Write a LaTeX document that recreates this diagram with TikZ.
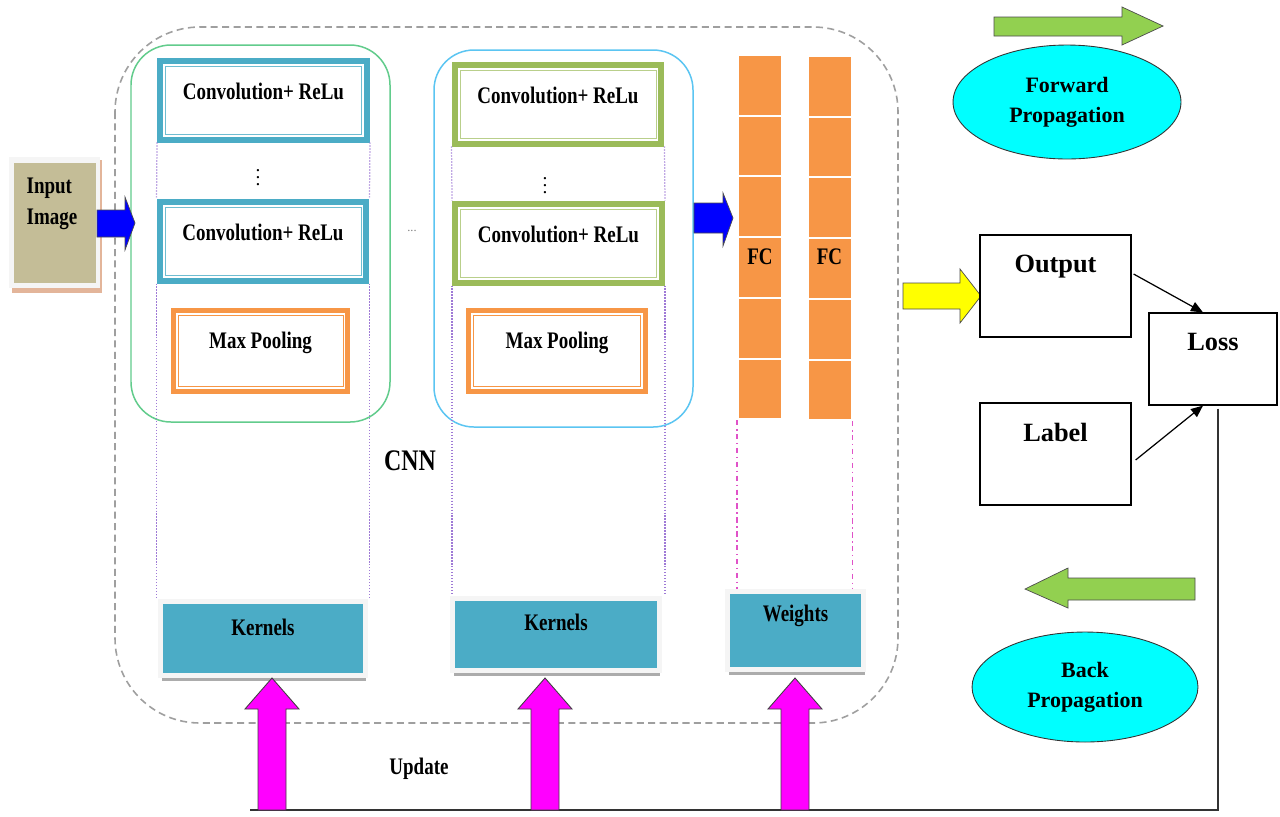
\documentclass[tikz,border=0pt]{standalone}
\usepackage{fontspec}
\setmainfont{Liberation Serif}
\newfontfamily\narrowserif[FakeStretch=0.8]{Liberation Serif}
\usetikzlibrary{shapes.geometric,calc,shadows,arrows.meta}

\definecolor{convteal}{HTML}{4BACC6}
\definecolor{convgreen}{HTML}{9BBB59}
\definecolor{poolorange}{HTML}{F79646}
\definecolor{inputtan}{HTML}{C4BD97}
\definecolor{inputpeach}{HTML}{E3B59A}
\definecolor{grpgreen}{HTML}{62CC8C}
\definecolor{grpblue}{HTML}{5BC5F2}
\definecolor{dotpurple}{HTML}{9F7AD6}
\definecolor{dashpink}{HTML}{E052C8}
\definecolor{greenarrow}{HTML}{92D050}
\definecolor{propcyan}{HTML}{00FFFF}
\definecolor{updmagenta}{HTML}{FF00FF}
\definecolor{fwdblue}{HTML}{0000FF}
\definecolor{outyellow}{HTML}{FFFF00}

\tikzset{
  boxtext/.style={font=\narrowserif\bfseries\fontsize{13.5}{15}\selectfont, inner sep=0pt},
  restext/.style={font=\bfseries\fontsize{15}{18}\selectfont, inner sep=0pt},
  convbox/.style={draw=convteal, line width=0.12cm, fill=white, inner sep=0pt,
    minimum width=4.14cm, minimum height=1.58cm,
    path picture={\draw[convteal!80, line width=0.5pt]
      ([shift={(0.11cm,-0.11cm)}]path picture bounding box.north west) rectangle
      ([shift={(-0.11cm,0.11cm)}]path picture bounding box.south east);}},
  convboxg/.style={convbox, draw=convgreen,
    path picture={\draw[convgreen!70, line width=0.5pt]
      ([shift={(0.11cm,-0.11cm)}]path picture bounding box.north west) rectangle
      ([shift={(-0.11cm,0.11cm)}]path picture bounding box.south east);}},
  poolbox/.style={draw=poolorange, line width=0.1cm, fill=white, inner sep=0pt,
    minimum width=3.5cm, minimum height=1.62cm,
    path picture={\draw[poolorange, line width=0.5pt]
      ([shift={(0.1cm,-0.1cm)}]path picture bounding box.north west) rectangle
      ([shift={(-0.1cm,0.1cm)}]path picture bounding box.south east);}},
  kernbox/.style={fill=convteal, draw=gray!8, line width=0.1cm, inner sep=0pt,
    drop shadow={shadow xshift=0.02cm, shadow yshift=-0.1cm, fill=gray!65, opacity=1}},
  fccell/.style={fill=poolorange, draw=white, line width=0.04cm, inner sep=0pt,
    minimum width=0.88cm, minimum height=1.214cm},
  lossbox/.style={draw=black, line width=0.7pt, fill=white, inner sep=0pt},
  propell/.style={ellipse, fill=propcyan, draw=black!80, line width=0.5pt, inner sep=0pt,
    align=center, font=\bfseries\fontsize{12.5}{17}\selectfont},
  grpbox/.style={line width=0.85pt, rounded corners=0.8cm},
  cnnframe/.style={draw=gray!75, line width=0.9pt, dash pattern=on 4pt off 2.5pt, rounded corners=1.7cm},
  dotline/.style={dotpurple, line width=0.7pt, densely dotted},
  fcdash/.style={dashpink, line width=0.9pt, dash dot},
  lossarrow/.style={black, line width=0.7pt, -{Triangle[length=0.24cm,width=0.2cm]}},
  fbline/.style={black!80, line width=0.8pt},
  bluearrow/.style={fill=fwdblue, draw=black!70, line width=0.4pt},
  yelarrow/.style={fill=outyellow, draw=black!70, line width=0.4pt},
  grnarrow/.style={fill=greenarrow, draw=black!70, line width=0.4pt},
  magarrow/.style={fill=updmagenta, draw=black!75, line width=0.5pt},
  vdotstext/.style={font=\fontsize{11}{12}\selectfont, inner sep=0pt}
}

\begin{document}
\begin{tikzpicture}[x=0.02cm,y=-0.02cm]
  \path[use as bounding box, fill=white] (0,0) rectangle (1280,816);

  % CNN frame and the two conv groups
  \draw[cnnframe] (115,27) rectangle (898,723);
  \node[boxtext, font=\narrowserif\bfseries\fontsize{17}{20}\selectfont] (cnn) at (410,461) {CNN};
  \draw[grpbox, grpgreen] (131,45) rectangle (390,422);
  \draw[grpbox, grpblue] (434,50) rectangle (693,427);

  % input image
  \fill[inputpeach] (12,160) rectangle (102,293);
  \fill[gray!8] (9,157) rectangle (100,288);
  \node[fill=inputtan, inner sep=0pt, minimum width=1.64cm, minimum height=2.4cm] (in) at (55,223) {};
  \node[boxtext, align=left, font=\narrowserif\bfseries\fontsize{13.5}{18}\selectfont] (intext) at (52,204) {Input\\Image};
  \draw[bluearrow] (97,210) -- (125,210) -- (125,197) -- (135,223) -- (125,250) -- (125,237) -- (97,237) -- cycle;

  % first group
  \node[convbox] (c1a) at (263.5,100) {};
  \node[boxtext] (c1atext) at ($(c1a.north)+(0,34)$) {Convolution+ ReLu};
  \node[vdotstext] (dots1) at (258,172) {$\vdots$};
  \node[convbox] (c1b) at (263,241) {};
  \node[boxtext] (c1btext) at ($(c1b.north)+(0,34)$) {Convolution+ ReLu};
  \node[poolbox] (mp1) at (260.5,351) {};
  \node[boxtext] (mp1text) at ($(mp1.north)+(0,35)$) {Max Pooling};

  \node[font=\fontsize{7}{8}\selectfont, text=gray, inner sep=0pt] (skip) at (412,231) {...};

  % second group
  \node[convboxg] (c2a) at (558,104) {};
  \node[boxtext] (c2atext) at ($(c2a.north)+(0,34)$) {Convolution+ ReLu};
  \node[vdotstext] (dots2) at (545,180) {$\vdots$};
  \node[convboxg] (c2b) at (558.5,243) {};
  \node[boxtext] (c2btext) at ($(c2b.north)+(0,34)$) {Convolution+ ReLu};
  \node[poolbox, minimum width=3.54cm] (mp2) at (557,351) {};
  \node[boxtext] (mp2text) at ($(mp2.north)+(0,35)$) {Max Pooling};

  % fully connected
  \draw[bluearrow] (694,203) -- (723,203) -- (723,193) -- (733,218) -- (723,246) -- (723,233) -- (694,233) -- cycle;
  \foreach \i in {0,...,5}{
    \node[fccell] (fa\i) at (760,85.35+60.7*\i) {};
    \node[fccell] (fb\i) at (829.5,86.35+60.7*\i) {};
  }
  \node[boxtext] (fatext) at (760,257) {FC};
  \node[boxtext] (fbtext) at (829.5,257) {FC};

  % kernels and weights
  \node[kernbox, minimum width=4.1cm, minimum height=1.48cm] (k1) at (263,638.5) {};
  \node[boxtext] (k1text) at ($(k1.north)+(0,28)$) {Kernels};
  \node[kernbox, minimum width=4.14cm, minimum height=1.44cm] (k2) at (556,634.5) {};
  \node[boxtext] (k2text) at ($(k2.north)+(0,26)$) {Kernels};
  \node[kernbox, minimum width=2.72cm, minimum height=1.56cm] (w) at (795.5,630.5) {};
  \node[boxtext] (wtext) at ($(w.north)+(0,27)$) {Weights};

  \draw[dotline] (c1a.south west) -- (c1b.north west);
  \draw[dotline] (c1a.south east) -- (c1b.north east);
  \draw[dotline] (c1b.south west) -- (c1b.south west |- k1.north);
  \draw[dotline] (c1b.south east) -- (c1b.south east |- k1.north);
  \draw[dotline] (c2a.south west) -- (c2b.north west);
  \draw[dotline] (c2a.south east) -- (c2b.north east);
  \draw[dotline] (c2b.south west) -- (c2b.south west |- k2.north);
  \draw[dotline] (c2b.south east) -- (c2b.south east |- k2.north);
  \draw[fcdash] (fa5.south west) -- (fa5.south west |- w.north);
  \draw[fcdash] (fb5.south east) -- (fb5.south east |- w.north);

  % output, label, loss
  \draw[yelarrow] (903,283) -- (960,283) -- (960,269) -- (981,296) -- (960,323) -- (960,309) -- (903,309) -- cycle;
  \node[lossbox, minimum width=3.02cm, minimum height=2.04cm] (out) at (1055.5,286) {};
  \node[restext] (outtext) at ($(out.north)+(0,32)$) {Output};
  \node[lossbox, minimum width=3.02cm, minimum height=2.04cm] (lab) at (1055.5,454) {};
  \node[restext] (labtext) at ($(lab.north)+(0,30)$) {Label};
  \node[lossbox, minimum width=2.56cm, minimum height=1.84cm] (loss) at (1213,359) {};
  \node[restext] (losstext) at ($(loss.north)+(0,30)$) {Loss};
  \draw[lossarrow] ($(out.east)+(2,-12)$) -- ($(loss.north)+(-10,0)$);
  \draw[lossarrow] ($(lab.east)+(4,6)$) -- ($(loss.south)+(-10,0)$);

  % update path
  \coordinate (upd) at (250,810);
  \draw[fbline] ($(loss.south)+(5,3)$) |- (upd);
  \foreach \ax in {272,545,795}
    \draw[magarrow] (\ax-14,810) -- (\ax-14,709) -- (\ax-27,709) -- (\ax,678) -- (\ax+27,709) -- (\ax+14,709) -- (\ax+14,810) -- cycle;
  \node[boxtext] (updtext) at (419,769) {Update};

  % propagation
  \draw[grnarrow] (994,17) -- (1122,17) -- (1122,7) -- (1163,26) -- (1122,45) -- (1122,36) -- (994,36) -- cycle;
  \node[propell, minimum width=4.56cm, minimum height=2.28cm] (fwd) at (1067,102) {Forward\\Propagation};
  \draw[grnarrow] (1195,578) -- (1068,578) -- (1068,568) -- (1025,589) -- (1068,608) -- (1068,600) -- (1195,600) -- cycle;
  \node[propell, minimum width=4.52cm, minimum height=2.2cm] (back) at (1085,687) {Back\\Propagation};
\end{tikzpicture}
\end{document}
